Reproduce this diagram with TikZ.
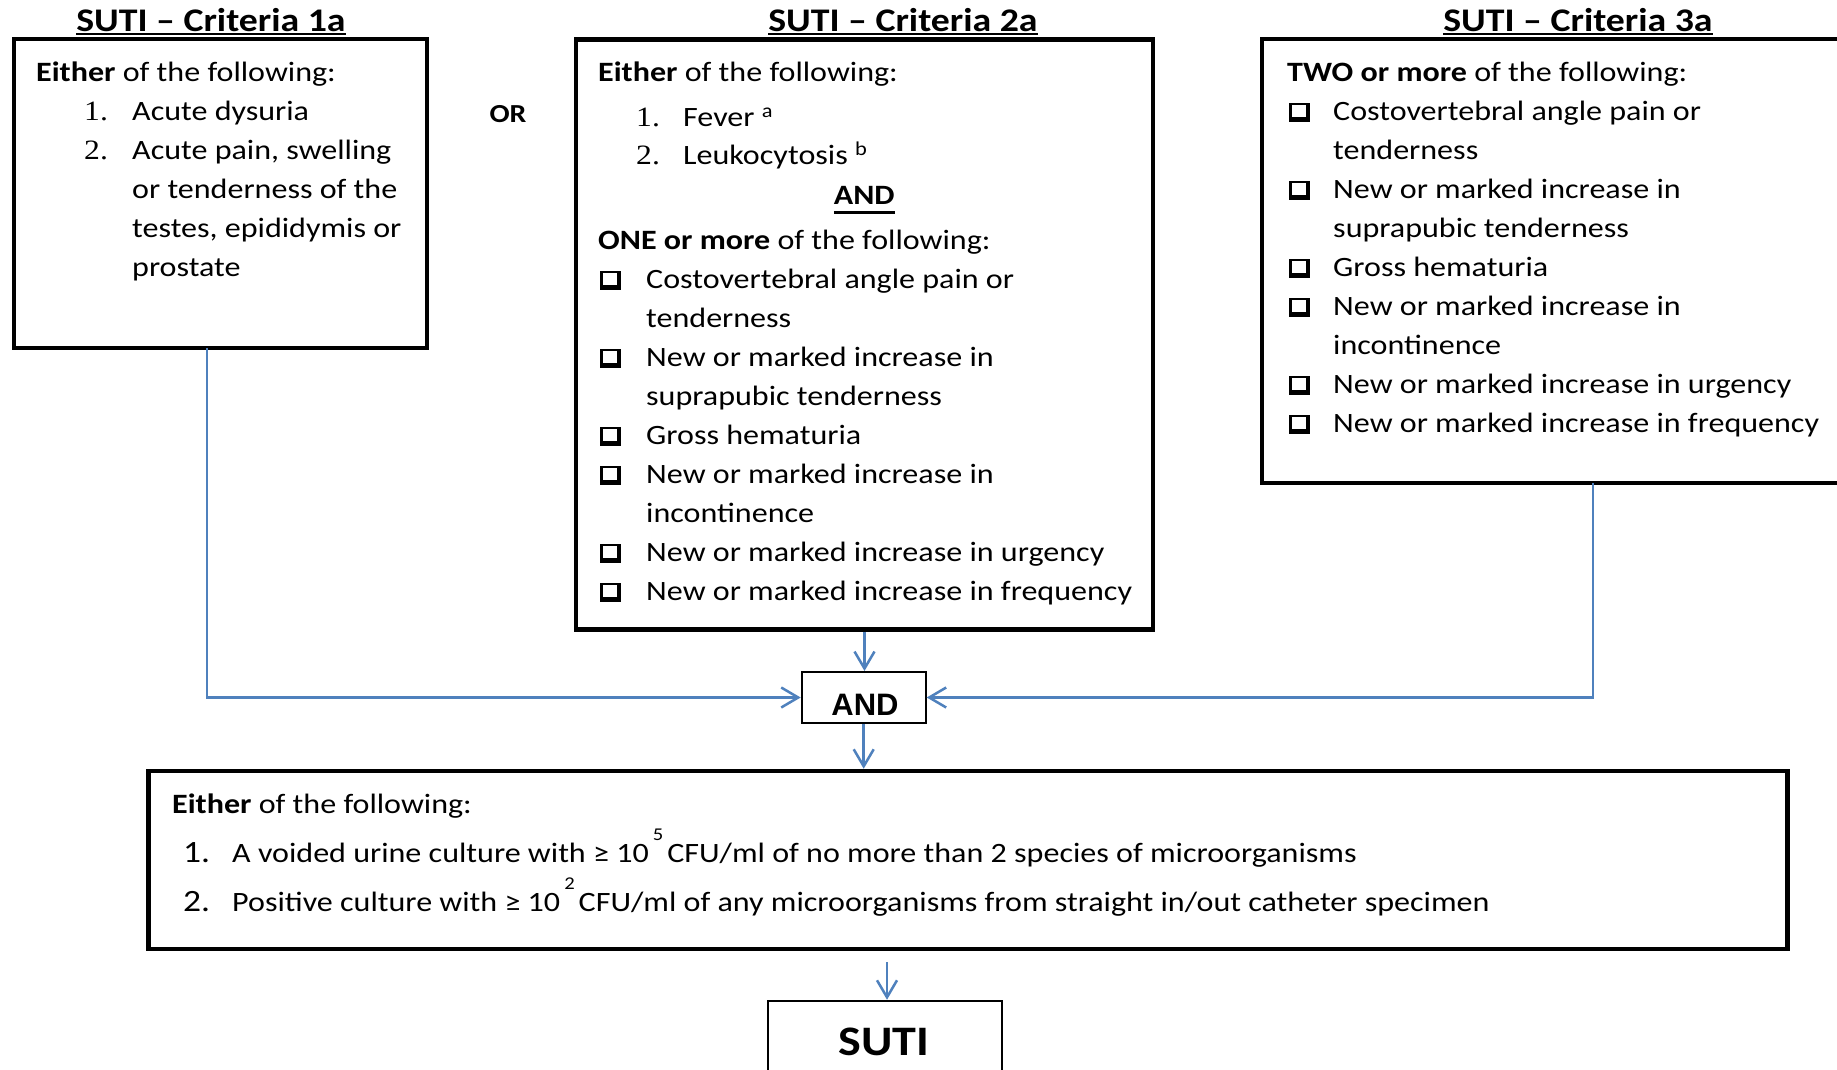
\documentclass[tikz,border=0pt]{standalone}
\usepackage{fontspec}
\setmainfont{Carlito}[FakeStretch=1.145]
\newfontfamily\sernum{Liberation Serif}[FakeStretch=1.13]
\newfontfamily\arialb{Liberation Sans}
\usetikzlibrary{arrows.meta,calc}
\definecolor{conncol}{RGB}{79,129,189}
\newcommand\chk{\rlap{\rule[-1pt]{2.4pt}{19pt}}\rlap{\rule[15.6pt]{18pt}{2.4pt}}\rlap{\rule[-1pt]{21pt}{4.5pt}}\hspace{16.5pt}\rule[-1pt]{4.5pt}{19pt}}
\newcommand\myul[3]{\setbox0=\hbox{#3}\rlap{\rule[#1]{\wd0}{#2}}\box0}
\begin{document}
\begin{tikzpicture}[x=1pt,y=-1pt,
  box/.style={draw,line width=4.5pt,inner sep=0pt},
  thinbox/.style={draw,line width=2pt,inner sep=0pt},
  txt/.style={inner sep=0pt,anchor=base west,font=\fontsize{28}{39}\selectfont},
  ttl/.style={inner sep=0pt,anchor=base,font=\bfseries\fontsize{33}{39}\selectfont},
  conn/.style={draw=conncol,line width=2.5pt,-{Straight Barb[length=17pt,width=20pt,line width=2.5pt]}},
]
\clip (0,0) rectangle (1837,1070);
\fill[white] (0,0) rectangle (1837,1070);

% boxes
\node[box,minimum width=413pt,minimum height=309pt] (c1) at (220.5,193.5) {};
\node[box,minimum width=577pt,minimum height=590pt] (c2) at (864.5,334.5) {};
\node[box,minimum width=598pt,minimum height=444pt] (c3) at (1561,261) {};
\node[box,minimum width=1639pt,minimum height=178pt] (res) at (968,860) {};
\node[thinbox,minimum width=124pt,minimum height=51pt] (and) at (863.7,697.5) {};
\node[draw,line width=2.5pt,minimum width=234pt,minimum height=100pt] (suti) at (885,1051) {};

% titles
\node[ttl] (t1) at (211,32) {\myul{-3pt}{2pt}{SUTI – Criteria 1a}};
\node[ttl] (t2) at (903,32) {\myul{-3pt}{2pt}{SUTI – Criteria 2a}};
\node[ttl] (t3) at (1578,32) {\myul{-3pt}{2pt}{SUTI – Criteria 3a}};
\node[inner sep=0pt,anchor=base,font=\bfseries\fontsize{26}{26}\selectfont] (or) at (508,123) {OR};

% box 1 text
\node[txt] (b1) at (36,82) {\parbox[t]{400pt}{\raggedright
\textbf{Either} of the following:\\
\hspace*{48pt}\makebox[48pt][l]{\sernum 1.}Acute dysuria\\
\hspace*{48pt}\makebox[48pt][l]{\sernum 2.}Acute pain, swelling\\
\hspace*{96pt}or tenderness of the\\
\hspace*{96pt}testes, epididymis or\\
\hspace*{96pt}prostate}};

% box 2 text
\node[txt] (b2) at (598,82) {\parbox[t]{560pt}{\raggedright
\textbf{Either} of the following:\\[6pt]
\hspace*{38pt}\makebox[47pt][l]{\sernum 1.}Fever \textsuperscript{a}\\[-1pt]
\hspace*{38pt}\makebox[47pt][l]{\sernum 2.}Leukocytosis \textsuperscript{b}\\[1pt]
\hspace*{266pt}\makebox[0pt]{\myul{-9pt}{2.5pt}{\textbf{AND}}}\\[6pt]
\textbf{ONE or more} of the following:\\
\hspace*{2pt}\makebox[46pt][l]{\chk}Costovertebral angle pain or\\
\hspace*{48pt}tenderness\\
\hspace*{2pt}\makebox[46pt][l]{\chk}New or marked increase in\\
\hspace*{48pt}suprapubic tenderness\\
\hspace*{2pt}\makebox[46pt][l]{\chk}Gross hematuria\\
\hspace*{2pt}\makebox[46pt][l]{\chk}New or marked increase in\\
\hspace*{48pt}incontinence\\
\hspace*{2pt}\makebox[46pt][l]{\chk}New or marked increase in urgency\\
\hspace*{2pt}\makebox[46pt][l]{\chk}New or marked increase in frequency}};

% box 3 text
\node[txt] (b3) at (1287,82) {\parbox[t]{560pt}{\raggedright
\textbf{TWO or more} of the following:\\
\hspace*{2pt}\makebox[44pt][l]{\chk}Costovertebral angle pain or\\
\hspace*{46pt}tenderness\\
\hspace*{2pt}\makebox[44pt][l]{\chk}New or marked increase in\\
\hspace*{46pt}suprapubic tenderness\\
\hspace*{2pt}\makebox[44pt][l]{\chk}Gross hematuria\\
\hspace*{2pt}\makebox[44pt][l]{\chk}New or marked increase in\\
\hspace*{46pt}incontinence\\
\hspace*{2pt}\makebox[44pt][l]{\chk}New or marked increase in urgency\\
\hspace*{2pt}\makebox[44pt][l]{\chk}New or marked increase in frequency}};

% bottom box text
\node[txt] (b4) at (172,813) {\parbox[t]{1580pt}{\raggedright
\textbf{Either} of the following:\\[10pt]
\hspace*{11pt}\makebox[49pt][l]{\fontsize{31}{39}\selectfont 1.}A voided urine culture with ≥ 10\hspace{4pt}\smash{\raisebox{22pt}{\fontsize{18}{18}\selectfont 5}}\hspace{4pt}CFU/ml of no more than 2 species of microorganisms\\[10pt]
\hspace*{11pt}\makebox[49pt][l]{\fontsize{31}{39}\selectfont 2.}Positive culture with ≥ 10\hspace{4pt}\smash{\raisebox{22pt}{\fontsize{18}{18}\selectfont 2}}\hspace{4pt}CFU/ml of any microorganisms from straight in/out catheter specimen}};

% AND and SUTI labels
\node[inner sep=0pt,anchor=base,font=\arialb\bfseries\fontsize{31}{31}\selectfont] (andt) at (865,715) {AND};
\node[inner sep=0pt,anchor=base,font=\bfseries\fontsize{42}{42}\selectfont] (sutit) at (884,1055) {SUTI};

% connectors
\coordinate (c1o) at (207,348);
\coordinate (c3o) at (1593,483);
\coordinate (r0) at (887,962);
\draw[conn] (c1o) |- (and.west);
\draw[conn] (c2.south) -- (c2.south |- and.north);
\draw[conn] (c3o) |- (and.east);
\draw[conn] (and.south) -- (and.south |- res.north);
\draw[conn] (r0) -- (r0 |- suti.north);
\end{tikzpicture}
\end{document}
